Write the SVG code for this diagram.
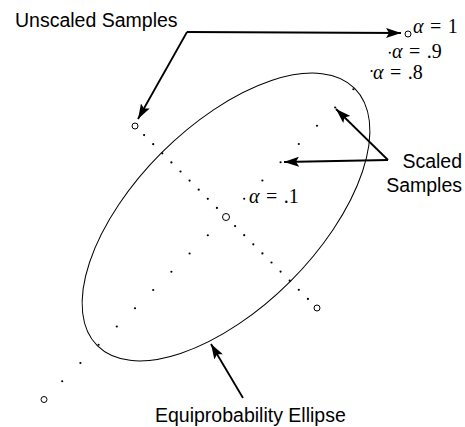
<svg xmlns="http://www.w3.org/2000/svg" width="465" height="427" viewBox="0 0 465 427">
<style>
.lbl{font-family:"Liberation Sans",Arial,sans-serif;font-size:19.5px;fill:#000}
.math{font-family:"Liberation Serif","Times New Roman",serif;font-size:20px;word-spacing:1.5px;fill:#000}
.ar{fill:none;stroke:#000;stroke-width:1.8}
.dot{fill:#000}
.smp{fill:#fff;stroke:#000;stroke-width:1}
</style>
<defs>
<marker id="ah" markerUnits="userSpaceOnUse" markerWidth="16" markerHeight="10" refX="15" refY="5" orient="auto">
<path d="M0,0 L15,5 L0,10 L3,5 Z" fill="#000"/>
</marker>
</defs>
<rect width="465" height="427" fill="#fff"/>
<g id="ellipse">
<ellipse cx="226" cy="217" rx="182" ry="91" transform="rotate(-45 226 217)" fill="none" stroke="#000" stroke-width="1"/>
</g>
<g id="samples">
<circle class="smp" cx="408" cy="34" r="3"/>
<circle class="smp" cx="44" cy="399.5" r="3"/>
<circle class="smp" cx="135" cy="126" r="3"/>
<circle class="smp" cx="317" cy="308" r="3"/>
<circle class="smp" cx="226" cy="217" r="3.5"/>
<g class="dot">
<circle cx="244.2" cy="198.75" r="1.1"/><circle cx="262.4" cy="180.5" r="1.1"/><circle cx="280.6" cy="162.25" r="1.1"/><circle cx="298.8" cy="144" r="1.1"/><circle cx="317" cy="125.75" r="1.1"/><circle cx="335.2" cy="107.5" r="1.1"/><circle cx="353.4" cy="89.25" r="1.1"/><circle cx="371.6" cy="71" r="1.1"/><circle cx="389.8" cy="52.75" r="1.1"/>
<circle cx="207.8" cy="235.25" r="1.1"/><circle cx="189.6" cy="253.5" r="1.1"/><circle cx="171.4" cy="271.75" r="1.1"/><circle cx="153.2" cy="290" r="1.1"/><circle cx="135" cy="308.25" r="1.1"/><circle cx="116.8" cy="326.5" r="1.1"/><circle cx="98.6" cy="344.75" r="1.1"/><circle cx="80.4" cy="363" r="1.1"/><circle cx="62.2" cy="381.25" r="1.1"/>
<circle cx="216.9" cy="207.9" r="1.1"/><circle cx="207.8" cy="198.8" r="1.1"/><circle cx="198.7" cy="189.7" r="1.1"/><circle cx="189.6" cy="180.6" r="1.1"/><circle cx="180.5" cy="171.5" r="1.1"/><circle cx="171.4" cy="162.4" r="1.1"/><circle cx="162.3" cy="153.3" r="1.1"/><circle cx="153.2" cy="144.2" r="1.1"/><circle cx="144.1" cy="135.1" r="1.1"/>
<circle cx="235.1" cy="226.1" r="1.1"/><circle cx="244.2" cy="235.2" r="1.1"/><circle cx="253.3" cy="244.3" r="1.1"/><circle cx="262.4" cy="253.4" r="1.1"/><circle cx="271.5" cy="262.5" r="1.1"/><circle cx="280.6" cy="271.6" r="1.1"/><circle cx="289.7" cy="280.7" r="1.1"/><circle cx="298.8" cy="289.8" r="1.1"/><circle cx="307.9" cy="298.9" r="1.1"/>
</g>
</g>
<g id="connectors">
<path class="ar" d="M187,32 L401,33" marker-end="url(#ah)"/>
<path class="ar" d="M187,32 L138,119" marker-end="url(#ah)"/>
<path class="ar" d="M388,160 L284,162" marker-end="url(#ah)"/>
<path class="ar" d="M388,160 L336,109" marker-end="url(#ah)"/>
<path class="ar" d="M243,398 L211,344" marker-end="url(#ah)"/>
</g>
<g id="label-unscaled"><text class="lbl" x="15" y="27">Unscaled Samples</text></g>
<g id="label-scaled"><text class="lbl" text-anchor="end"><tspan x="462" y="168">Scaled</tspan><tspan x="462" y="192">Samples</tspan></text></g>
<g id="label-ellipse"><text class="lbl" x="155" y="422">Equiprobability Ellipse</text></g>
<g id="alpha-labels">
<text class="math" x="413" y="33"><tspan font-style="italic">α</tspan> = 1</text>
<text class="math" x="392" y="58"><tspan font-style="italic">α</tspan> = .9</text>
<text class="math" x="373" y="79"><tspan font-style="italic">α</tspan> = .8</text>
<text class="math" x="249" y="203"><tspan font-style="italic">α</tspan> = .1</text>
</g>
</svg>
